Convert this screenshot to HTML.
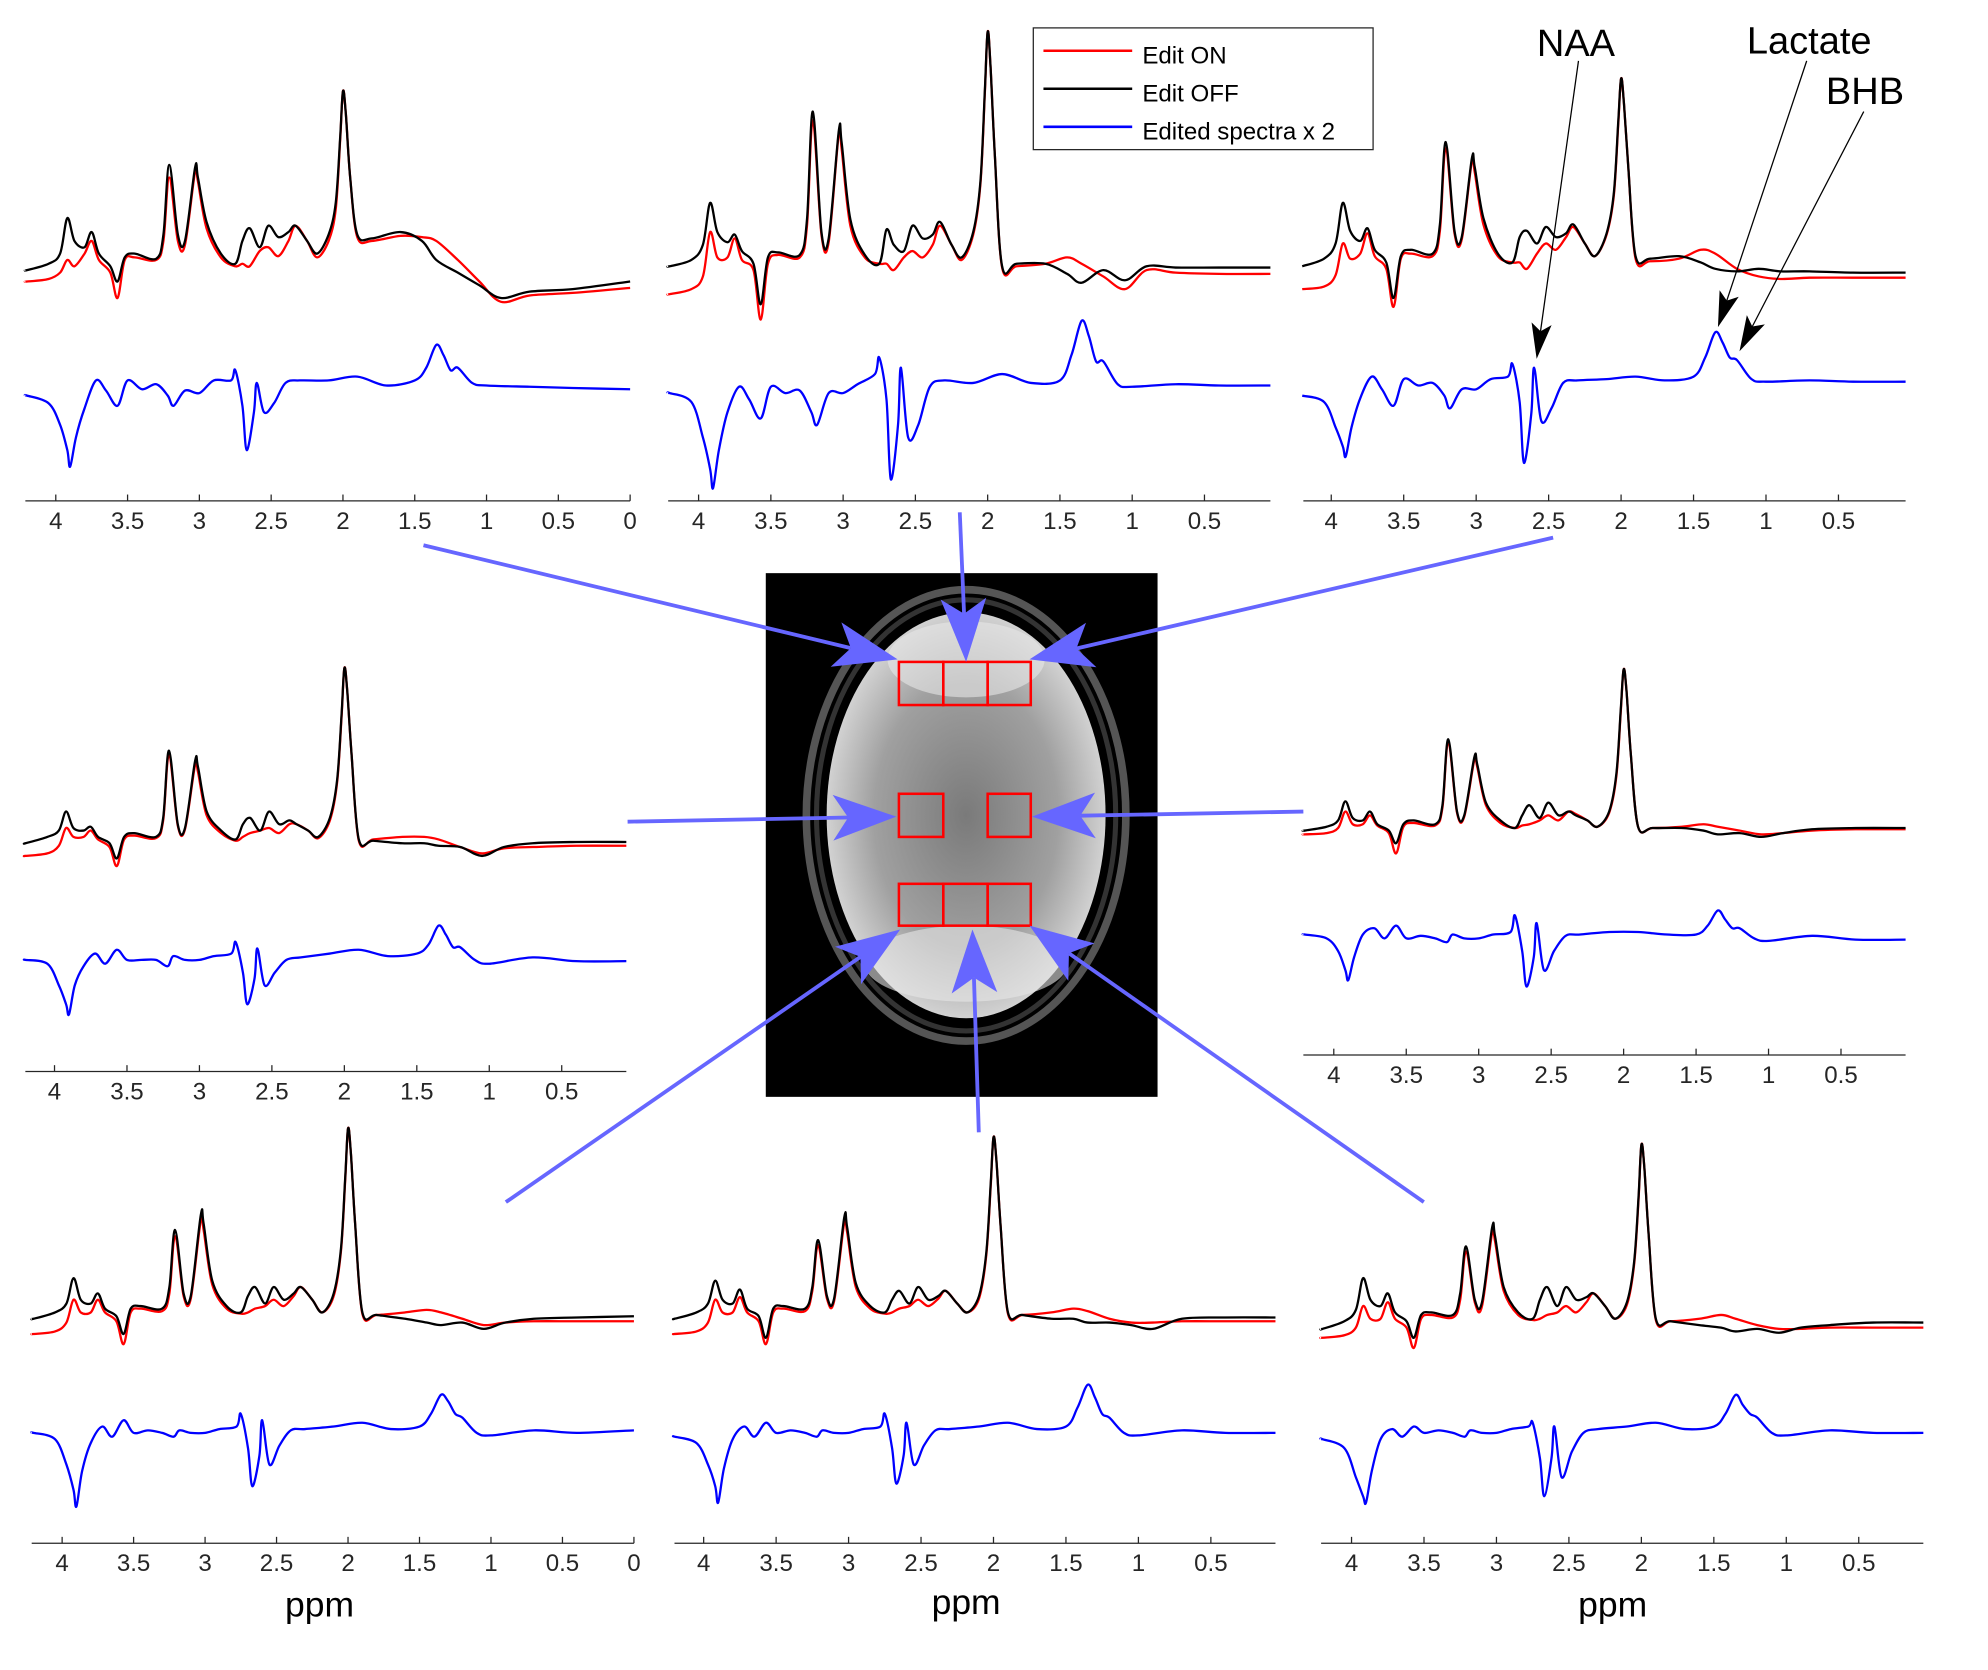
<!DOCTYPE html>
<html><head><meta charset="utf-8"><style>
html,body{margin:0;padding:0;background:#fff;}
svg{display:block;font-family:"Liberation Sans",Arial,sans-serif;}
</style></head><body>
<svg id="fig" width="1988" height="1670" viewBox="0 0 1568 1317" preserveAspectRatio="none" xmlns="http://www.w3.org/2000/svg">
<defs>
<radialGradient id="brainG" cx="50%" cy="50%" r="55%">
<stop offset="0" stop-color="#7a7a7a"/><stop offset="0.6" stop-color="#a0a0a0"/><stop offset="0.9" stop-color="#d0d0d0"/><stop offset="1" stop-color="#e6e6e6"/>
</radialGradient>
</defs>
<g id="mri">
<rect x="604" y="452" width="309" height="413" fill="#000"/>
<ellipse cx="762" cy="643" rx="126" ry="178" fill="none" stroke="#555" stroke-width="6"/>
<ellipse cx="762" cy="643" rx="118" ry="170" fill="none" stroke="#333" stroke-width="4"/>
<ellipse cx="762" cy="643" rx="110" ry="160" fill="url(#brainG)"/>
<ellipse cx="762" cy="520" rx="62" ry="30" fill="#e8e8e8" opacity="0.6"/>
<ellipse cx="762" cy="760" rx="80" ry="30" fill="#e8e8e8" opacity="0.6"/>
<g fill="none" stroke="#ff0000" stroke-width="2">
<rect x="709" y="522" width="35" height="34"/><rect x="744" y="522" width="35" height="34"/><rect x="779" y="522" width="34" height="34"/>
<rect x="709" y="626" width="35" height="34"/><rect x="779" y="626" width="34" height="34"/>
<rect x="709" y="697" width="35" height="33"/><rect x="744" y="697" width="35" height="33"/><rect x="779" y="697" width="34" height="33"/>
</g>
</g>
<g id="plots"></g>
<g id="arrows"></g>
<g>
<rect x="815" y="22" width="268" height="96" fill="#fff" stroke="#262626" stroke-width="1"/>
<line x1="823" y1="40" x2="893" y2="40" stroke="#ff0000" stroke-width="2"/>
<text x="901" y="50" font-size="19" fill="#000">Edit ON</text>
<line x1="823" y1="70" x2="893" y2="70" stroke="#000" stroke-width="2"/>
<text x="901" y="80" font-size="19" fill="#000">Edit OFF</text>
<line x1="823" y1="100" x2="893" y2="100" stroke="#0000ff" stroke-width="2"/>
<text x="901" y="110" font-size="19" fill="#000">Edited spectra x 2</text>
</g>
<g font-size="30" fill="#000">
<text x="1243" y="44" text-anchor="middle">NAA</text>
<text x="1427" y="42" text-anchor="middle">Lactate</text>
<text x="1471" y="82" text-anchor="middle">BHB</text>
</g>
<g font-size="28" fill="#000" text-anchor="middle">
<text x="252" y="1275">ppm</text><text x="762" y="1273">ppm</text><text x="1272" y="1275">ppm</text>
</g>
</svg>
<script>
// ppm sample grids
const ppmTop = [4.2,4.05,3.97,3.92,3.87,3.8,3.75,3.7,3.62,3.57,3.52,3.45,3.3,3.25,3.21,3.15,3.1,3.03,3.01,2.95,2.85,2.75,2.7,2.65,2.58,2.52,2.45,2.38,2.33,2.25,2.18,2.1,2.05,2.02,2.0,1.98,1.95,1.9,1.8,1.6,1.45,1.35,1.2,1.05,0.9,0.7,0.4,0.0];
const ppmDiff = [4.2,4.05,3.97,3.92,3.9,3.86,3.8,3.72,3.65,3.57,3.5,3.4,3.3,3.22,3.18,3.1,3.0,2.9,2.78,2.75,2.7,2.67,2.62,2.6,2.55,2.48,2.4,2.3,2.1,1.9,1.7,1.5,1.42,1.35,1.3,1.25,1.2,1.1,1.0,0.7,0.4,0.0];
const tickLabels = ["4","3.5","3","2.5","2","1.5","1","0.5","0"];
const tickValues = [4,3.5,3,2.5,2,1.5,1,0.5,0];
// Edit OFF (black)
const off1=[2,7,15,43,25,20,32,15,5,-7,12,15,11,30,85,30,25,83,75,40,15,7,25,35,20,37,28,32,37,25,15,30,55,105,143,125,75,30,27,32,25,10,0,-10,-20,-15,-13,-7];
const off2=[3,8,20,53,30,22,28,15,5,-27,10,14,12,40,125,30,25,110,100,40,12,5,32,20,15,35,25,28,38,20,10,30,70,140,188,160,90,3,5,5,-3,-10,0,-8,3,2,2,2];
const off3=[2,8,20,52,30,22,32,15,5,-23,10,15,12,35,100,30,25,87,80,40,12,5,25,30,20,33,25,28,35,20,10,28,60,115,150,130,80,10,8,10,5,0,-2,0,-2,-2,-3,-3];
const off4=[0,5,10,25,12,10,13,5,0,-12,5,8,5,20,73,15,12,65,60,25,10,3,15,20,10,25,15,18,15,10,5,20,50,100,138,120,70,3,2,0,0,-2,-3,-10,-3,0,1,2];
const off5=[0,3,8,23,10,8,15,5,0,-10,5,8,5,20,72,15,12,58,52,22,8,2,12,20,10,22,12,15,12,8,3,15,45,95,127,110,60,3,2,2,0,-3,-2,-5,-2,1,2,3];
const off6=[0,5,12,32,15,12,20,8,2,-12,8,10,8,25,70,20,18,82,75,30,10,5,18,25,12,25,15,20,25,15,5,20,55,110,150,130,75,5,3,0,-3,-5,-3,-8,-3,0,1,2];
const off7=[0,5,12,30,15,12,23,8,2,-15,8,10,8,25,62,18,16,80,72,28,10,5,15,22,12,25,15,18,22,12,5,18,52,105,143,125,72,5,3,0,0,-3,-3,-5,-8,0,1,2];
const off8=[-3,3,12,37,20,15,25,10,3,-10,8,10,8,25,62,20,18,77,70,30,10,5,20,30,15,30,20,22,25,15,5,18,50,100,142,125,72,5,3,0,-2,-5,-3,-6,-2,0,2,3];
// Edit ON (red)
const on1=[-7,-5,0,10,5,15,25,10,0,-20,10,12,10,25,75,25,22,80,72,35,12,5,7,5,17,20,13,25,37,25,12,25,50,103,143,125,75,28,25,29,28,25,10,-7,-23,-18,-16,-12];
const on2=[-19,-15,-5,30,10,10,25,8,0,-39,5,12,10,35,118,28,22,108,95,35,10,5,5,0,10,15,10,20,35,20,8,28,68,138,188,160,90,2,3,5,10,5,-5,-15,0,-2,-3,-3];
const on3=[-16,-14,-5,20,8,12,28,10,0,-30,8,12,10,30,95,28,23,85,76,35,10,5,5,0,12,20,15,25,33,20,10,27,58,113,150,130,80,8,6,8,15,12,0,-6,-8,-7,-7,-7];
const on4=[-10,-8,-2,12,5,5,10,3,-3,-18,3,6,4,18,70,14,11,62,56,22,8,2,5,8,10,12,8,15,15,10,4,18,48,98,138,120,70,2,3,5,5,3,-3,-8,-4,-3,-2,-3];
const on5=[-3,-2,2,15,5,5,12,4,-2,-18,3,6,4,18,70,14,11,56,50,20,6,2,4,5,8,12,8,15,13,8,3,14,43,93,127,110,60,3,2,3,5,3,0,-3,-2,0,1,1];
const on6=[-12,-10,-3,15,5,5,15,5,-2,-20,5,8,6,20,65,18,16,78,70,27,8,4,5,8,10,15,10,18,25,15,5,18,53,108,150,130,75,4,3,5,7,5,0,-5,-3,-2,-2,-2];
const on7=[-12,-10,-3,15,5,5,17,5,-2,-20,5,8,6,22,58,16,14,76,68,25,8,4,5,8,10,15,10,16,22,12,5,16,50,103,143,125,72,4,3,5,8,6,0,-3,-3,-2,-2,-2];
const on8=[-10,-8,-2,15,5,5,18,5,-2,-18,5,8,6,20,58,18,15,73,66,27,8,4,5,8,10,15,10,18,25,15,5,16,48,98,142,125,72,4,3,5,8,5,0,-3,-3,-2,-2,-2];
// Edited difference x2 (blue)
const dif1=[-7,-13,-30,-50,-63,-40,-17,5,-3,-15,5,-2,2,-7,-15,-3,-5,5,5,13,-15,-50,-20,3,-20,-13,3,5,5,8,1,5,15,33,25,13,15,3,1,0,-1,-2];
const dif2=[-5,-12,-40,-65,-80,-50,-20,0,-10,-25,0,-5,-3,-20,-30,-5,-5,2,10,23,-10,-73,-30,15,-40,-30,0,5,3,10,3,5,25,52,40,20,20,2,0,2,1,0];
const dif3=[-10,-15,-35,-50,-58,-35,-12,5,-5,-18,3,-2,0,-10,-20,-5,-5,3,5,15,-15,-63,-25,12,-30,-20,0,2,3,5,2,5,20,40,32,20,18,3,1,2,1,0];
const dif4=[0,-3,-20,-35,-43,-20,-5,5,-3,8,0,0,0,-5,3,0,0,3,5,14,-10,-35,-15,9,-20,-10,0,2,5,8,3,5,12,27,20,10,10,0,-3,2,-1,0];
const dif5=[3,0,-10,-25,-33,-15,3,8,0,10,0,2,0,-3,3,0,0,3,5,18,-10,-38,-15,12,-25,-10,2,3,5,5,3,3,10,22,15,8,8,0,-2,2,-1,0];
const dif6=[0,-5,-25,-45,-58,-30,-8,5,-3,10,0,2,0,-3,2,0,0,3,5,15,-12,-42,-18,10,-25,-10,2,3,5,8,3,5,15,30,25,15,12,0,-2,2,0,2];
const dif7=[-3,-8,-25,-42,-55,-28,-5,5,-3,8,0,2,0,-3,2,0,0,3,5,15,-12,-40,-18,8,-25,-10,2,3,5,8,3,5,20,38,28,15,12,0,-2,2,0,2];
const dif8=[-5,-12,-35,-50,-55,-30,-5,3,-3,5,0,2,0,-3,2,0,0,3,5,8,-20,-50,-20,5,-35,-15,0,3,5,8,3,5,15,30,22,15,12,0,-2,2,0,0];

const panels=[
 {id:1,x0:20,x1:497,x4:44,k:113.25,ax:395,yTop:215,yDif:305,minPpm:0,off:off1,on:on1,dif:dif1},
 {id:2,x0:527,x1:1002,x4:551,k:114,ax:395,yTop:213,yDif:305,minPpm:0.5,off:off2,on:on2,dif:dif2},
 {id:3,x0:1028,x1:1503,x4:1050,k:114.3,ax:395,yTop:212,yDif:302,minPpm:0.5,off:off3,on:on3,dif:dif3},
 {id:4,x0:20,x1:494,x4:43,k:114.3,ax:845,yTop:665,yDif:757,minPpm:0.5,off:off4,on:on4,dif:dif4},
 {id:5,x0:1028,x1:1503,x4:1052,k:114.3,ax:832,yTop:655,yDif:740,minPpm:0.5,off:off5,on:on5,dif:dif5},
 {id:6,x0:25,x1:500,x4:49,k:112.75,ax:1217,yTop:1040,yDif:1130,minPpm:0,off:off6,on:on6,dif:dif6},
 {id:7,x0:532,x1:1006,x4:555,k:114.3,ax:1217,yTop:1040,yDif:1130,minPpm:0.5,off:off7,on:on7,dif:dif7},
 {id:8,x0:1042,x1:1517,x4:1066,k:114.3,ax:1217,yTop:1045,yDif:1130,minPpm:0.5,off:off8,on:on8,dif:dif8}
];
const NS="http://www.w3.org/2000/svg";
function mk(tag,attrs,parent){const e=document.createElementNS(NS,tag);for(const a in attrs)e.setAttribute(a,attrs[a]);parent.appendChild(e);return e;}
function pathFrom(pts){
 let d="M"+pts[0][0].toFixed(1)+","+pts[0][1].toFixed(1);
 for(let i=0;i<pts.length-1;i++){
  const p0=pts[Math.max(0,i-1)],p1=pts[i],p2=pts[i+1],p3=pts[Math.min(pts.length-1,i+2)];
  const c1x=p1[0]+(p2[0]-p0[0])/6,c1y=p1[1]+(p2[1]-p0[1])/6;
  const c2x=p2[0]-(p3[0]-p1[0])/6,c2y=p2[1]-(p3[1]-p1[1])/6;
  d+=" C"+c1x.toFixed(1)+","+c1y.toFixed(1)+" "+c2x.toFixed(1)+","+c2y.toFixed(1)+" "+p2[0].toFixed(1)+","+p2[1].toFixed(1);
 }
 return d;
}
const plots=document.getElementById('plots');
panels.forEach(p=>{
 const g=mk('g',{},plots);
 
 
 const xs=v=>p.x4+(4-v)*p.k;
 const clip=(grid,vals,base)=>{const pts=[];grid.forEach((v,i)=>{const x=xs(v);if(x>=p.x0-1&&x<=p.x1+1)pts.push([x,base-vals[i]]);});return pts;};
 const series=[[ppmTop,p.on,p.yTop,'#ff0000','edit-on-line'],[ppmTop,p.off,p.yTop,'#000000','edit-off-line'],[ppmDiff,p.dif,p.yDif,'#0000ff','edited-spectrum-line']];
 series.forEach(s=>{
  let pts=clip(s[0],s[1],s[2]);
  if(pts[0][0]>p.x0)pts.unshift([p.x0,pts[0][1]]);
  if(pts[pts.length-1][0]<p.x1)pts.push([p.x1,pts[pts.length-1][1]]);
  const e=mk('path',{d:pathFrom(pts),fill:'none',stroke:s[3],'stroke-width':'1.8','stroke-linejoin':'round'},g);
  
  
 });
 const ax=mk('line',{x1:p.x0,y1:p.ax,x2:p.x1,y2:p.ax,stroke:'#262626','stroke-width':'1'},g);
 
 
 tickValues.forEach((v,i)=>{
  if(v<p.minPpm)return;
  const x=xs(v);
  mk('line',{x1:x,y1:p.ax,x2:x,y2:p.ax-5,stroke:'#262626','stroke-width':'1'},g);
  const t=mk('text',{x:x,y:p.ax+22,'font-size':'19','text-anchor':'middle',fill:'#262626'},g);
  t.textContent=tickLabels[i];
  
  
 });
});
// arrows
const arr=document.getElementById('arrows');
function arrow(x1,y1,x2,y2,col,w,L,H,N,name){
 const g=mk('g',{},arr);
 
 
 const dx=x2-x1,dy=y2-y1,len=Math.hypot(dx,dy),ux=dx/len,uy=dy/len,px=-uy,py=ux;
 const bx=x2-ux*L,by=y2-uy*L,nx=x2-ux*N,ny=y2-uy*N;
 mk('line',{x1:x1,y1:y1,x2:nx,y2:ny,stroke:col,'stroke-width':w},g);
 mk('polygon',{points:[x2,y2,bx+px*H,by+py*H,nx,ny,bx-px*H,by-py*H].map(v=>v.toFixed(1)).join(' '),fill:col},g);
}
const B='#6666ff';
arrow(334,430,708,520,B,3,50,18,38,'pointer-arrow-1');
arrow(757,404,762,522,B,3,50,18,38,'pointer-arrow-2');
arrow(1225,424,812,520,B,3,50,18,38,'pointer-arrow-3');
arrow(495,648,707,644,B,3,50,18,38,'pointer-arrow-4');
arrow(1028,640,814,644,B,3,50,18,38,'pointer-arrow-5');
arrow(399,948,710,733,B,3,50,18,38,'pointer-arrow-6');
arrow(772,893,767,733,B,3,50,18,38,'pointer-arrow-7');
arrow(1123,948,812,730,B,3,50,18,38,'pointer-arrow-8');
arrow(1245,48,1212,283,'#000',1,28,8,22,'naa-arrow');
arrow(1425,48,1355,258,'#000',1,28,8,22,'lactate-arrow');
arrow(1470,88,1372,277,'#000',1,28,8,22,'bhb-arrow');
</script>
</body></html>
